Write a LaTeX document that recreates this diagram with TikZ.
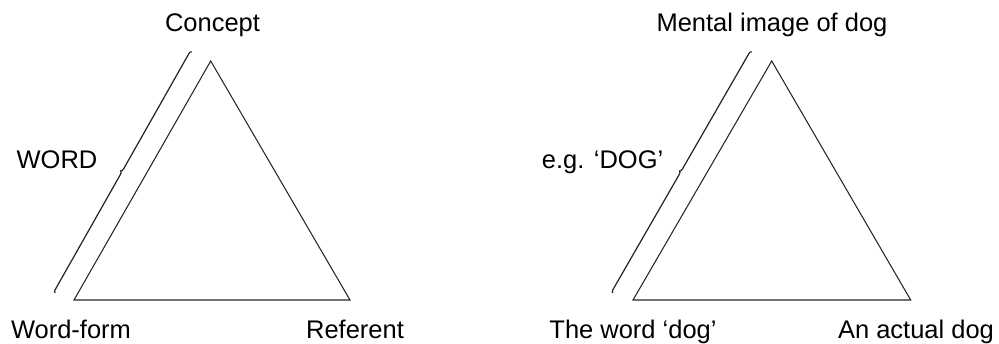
\documentclass[tikz,border=0pt]{standalone}
\usepackage{fontspec}
\setmainfont{Liberation Sans}
\usetikzlibrary{decorations.pathreplacing}

\begin{document}
\begin{tikzpicture}[
      x=0.02cm, y=-0.02cm,
      font=\fontsize{14.5}{17}\selectfont,
      lbl/.style={anchor=base, inner sep=0pt},
      side/.style={draw=black!85, line width=0.6pt, line join=miter},
      wordbrace/.style={draw=black!85, line width=0.7pt,
                        decorate, decoration={brace, amplitude=0.06cm}},
    ]
    \useasboundingbox (0,0) rectangle (999,343);
    % left triangle
    \coordinate (cp) at (210.7,61);
    \coordinate (wf) at (74,300);
    \coordinate (rf) at (350,300);
    \coordinate (wb0) at (55,293);
    \coordinate (wb1) at (191.7,51.7);
    \draw[side] (wf) -- (cp) -- (rf) -- cycle;
    \draw[wordbrace] (wb0) -- (wb1);
    \node[lbl] (concept) at (212.5,31.7) {Concept};
    \node[lbl] (word) at (57,168.3) {WORD};
    \node[lbl] (wordform) at (71,338) {Word-form};
    \node[lbl] (referent) at (355,338) {Referent};
    % right triangle
    \coordinate (mi) at (771.7,61);
    \coordinate (wd) at (633,300);
    \coordinate (ad) at (910.7,300);
    \coordinate (db0) at (612.7,293);
    \coordinate (db1) at (751.7,51.7);
    \draw[side] (wd) -- (mi) -- (ad) -- cycle;
    \draw[wordbrace] (db0) -- (db1);
    \node[lbl] (mental) at (772,31.7) {Mental image of dog};
    \node[lbl] (egdog) at (602.6,168.3) {e.g. ‘DOG’};
    \node[lbl] (theword) at (633,338) {The word ‘dog’};
    \node[lbl] (actual) at (916,338) {An actual dog};
  \end{tikzpicture}
\end{document}
